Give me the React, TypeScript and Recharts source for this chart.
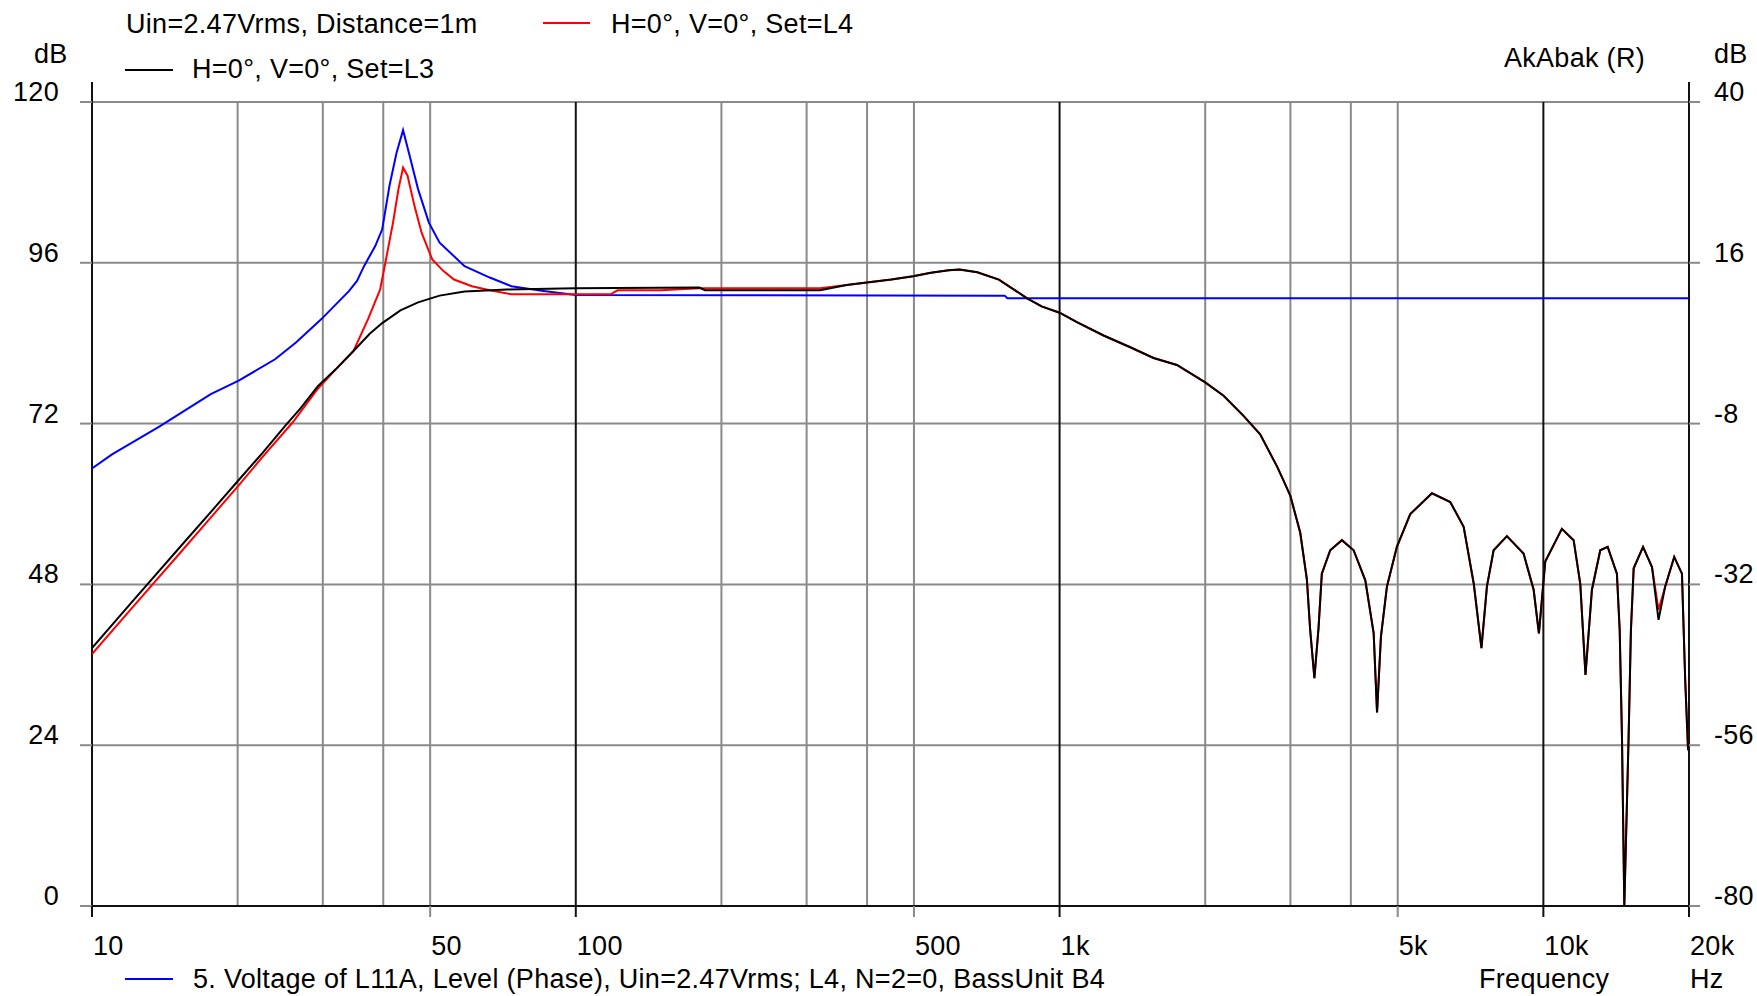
import { LineChart, Line, XAxis, YAxis, CartesianGrid, ReferenceLine } from "recharts";

// frequency response readings (Hz / dB)
const blueHz = [10, 11, 12, 13.8, 15.6, 17.6, 20.1, 23.9, 26.4, 29.8, 34, 35.3, 36.5, 38.5, 39.8, 41.2, 42.6, 43.95, 45.2, 47.2, 49.7, 52.3, 58.9, 66.4, 73.6, 85.8, 100, 770, 780, 20000];
const blueDb = [65.3, 67.4, 69.0, 71.6, 74.0, 76.4, 78.4, 81.6, 84.1, 87.6, 91.8, 93.3, 95.5, 98.5, 101.0, 107.5, 112.4, 115.8, 112.4, 107.0, 102.0, 99.0, 95.5, 93.8, 92.5, 91.8, 91.2, 91.1, 90.7, 90.7];

const redHz = [10, 12, 15, 18, 20, 22.5, 26, 29.3, 31.9, 34.7, 37.2, 39.4, 40.4, 41.9, 43, 43.95, 44.9, 46.4, 48, 50.5, 53.2, 56, 61, 66.4, 73.6, 118, 122, 150, 180, 320, 363, 392, 449, 498, 542, 590, 621, 676, 749, 805, 857, 918, 1000, 1086, 1233, 1400, 1564, 1748, 2000, 2183, 2400, 2598, 2813, 2904, 3000, 3144, 3245, 3296, 3363, 3430, 3484, 3626, 3833, 4053, 4285, 4459, 4531, 4616, 4750, 4980, 5307, 5885, 6420, 6843, 7180, 7447, 7645, 7892, 8407, 9100, 9548, 9790, 10090, 10920, 11550, 11920, 12220, 12600, 13110, 13580, 14190, 14380, 14540, 14700, 15000, 15170, 15370, 16070, 16770, 17300, 17860, 18640, 19340, 19640, 19900, 20000];
const redDb = [37.6, 44.2, 52.2, 58.8, 62.6, 67.0, 72.2, 77.2, 80.1, 82.8, 87.6, 92.0, 96.0, 102.0, 107.0, 110.2, 109.0, 104.5, 100.5, 96.5, 94.8, 93.5, 92.5, 91.9, 91.3, 91.3, 91.9, 91.9, 92.2, 92.2, 92.7, 93.0, 93.5, 94.0, 94.5, 94.9, 95.0, 94.6, 93.5, 92.0, 90.7, 89.5, 88.55, 87.15, 85.15, 83.4, 81.8, 80.75, 78.15, 76.15, 73.15, 70.4, 65.65, 63.5, 61.2, 55.7, 48.7, 41.2, 34.0, 41.5, 49.6, 53.1, 54.6, 53.1, 48.6, 40.7, 28.9, 40.2, 47.7, 53.6, 58.5, 61.6, 60.3, 56.6, 48.1, 38.5, 47.7, 53.1, 55.2, 52.6, 47.2, 40.7, 51.4, 56.3, 54.6, 48.1, 34.5, 47.2, 53.1, 53.6, 49.6, 41.2, 24.9, 0, 24.9, 41.2, 50.4, 53.6, 50.6, 44.2, 47.7, 52.1, 49.6, 33.8, 23.7, 24];

const blackHz = [10, 12, 15, 18, 20, 22.5, 25.1, 27, 29.3, 31.9, 35.3, 37.5, 39.8, 43.4, 47.2, 52.3, 58.9, 72, 100, 180, 185, 320, 363, 392, 449, 498, 542, 590, 621, 676, 749, 805, 857, 918, 1000, 1086, 1233, 1400, 1564, 1748, 2000, 2183, 2400, 2598, 2813, 2904, 3000, 3144, 3245, 3296, 3363, 3430, 3484, 3626, 3833, 4053, 4285, 4459, 4531, 4616, 4750, 4980, 5307, 5885, 6420, 6843, 7180, 7447, 7645, 7892, 8407, 9100, 9548, 9790, 10090, 10920, 11550, 11920, 12220, 12600, 13110, 13580, 14190, 14380, 14540, 14700, 15000, 15170, 15370, 16070, 16770, 17300, 17860, 18640, 19340, 19640, 19900, 20000];
const blackDb = [38.5, 45.1, 53.1, 59.6, 63.4, 67.6, 71.7, 74.3, 77.6, 80.1, 83.4, 85.4, 87.0, 88.9, 90.1, 91.1, 91.7, 92.0, 92.2, 92.3, 91.9, 91.9, 92.7, 93.0, 93.5, 94.0, 94.5, 94.9, 95.0, 94.6, 93.5, 92.0, 90.7, 89.5, 88.55, 87.15, 85.15, 83.4, 81.8, 80.75, 78.15, 76.15, 73.15, 70.4, 65.65, 63.5, 61.2, 55.7, 48.7, 41.2, 34.0, 41.5, 49.6, 53.1, 54.6, 53.1, 48.6, 40.7, 28.9, 40.2, 47.7, 53.6, 58.5, 61.6, 60.3, 56.6, 48.1, 38.5, 47.7, 53.1, 55.2, 52.6, 47.2, 40.7, 51.4, 56.3, 54.6, 48.1, 34.5, 47.2, 53.1, 53.6, 49.6, 41.2, 24.9, 0, 24.9, 41.2, 50.4, 53.6, 50.6, 42.7, 47.7, 52.1, 49.6, 33.8, 23.7, 24];

const freqTicks = [10, 50, 100, 500, 1000, 5000, 10000, 20000];
const freqLabels = ["10", "50", "100", "500", "1k", "5k", "10k", "20k"];
const minorGrid = [20, 30, 40, 50, 200, 300, 400, 500, 2000, 3000, 4000, 5000];
const decadeGrid = [100, 1000, 10000];
const levelTicks = [0, 24, 48, 72, 96, 120];
const rightTicks = [-80, -56, -32, -8, 16, 40];

const FONT = '"Liberation Sans", Arial, sans-serif';
const GRID = "#8a8a8a";
const PLOT_BOTTOM = 906;
const PLOT_RIGHT = 1689;
const txt = { fontFamily: FONT, fontSize: 27, letterSpacing: 0.3, fill: "#000" };

const toPoints = (hz: number[], db: number[]) => hz.map((h, i) => ({ hz: h, db: db[i] }));
const blueData = toPoints(blueHz, blueDb);
const redData = toPoints(redHz, redDb);
const blackData = toPoints(blackHz, blackDb);

function FreqTick(props: any) {
  const { x, payload } = props;
  const v = payload.value;
  const major = v === 10 || v === 100 || v === 1000 || v === 10000 || v === 20000;
  return (
    <g>
      <line x1={x} x2={x} y1={PLOT_BOTTOM} y2={PLOT_BOTTOM + 11} stroke={major ? "#111" : GRID} strokeWidth={2} />
      <text x={x + 1} y={955} {...txt}>{freqLabels[freqTicks.indexOf(v)]}</text>
    </g>
  );
}

// left labels plus the matching right-hand scale (dB relative)
function LevelTick(props: any) {
  const { y, payload } = props;
  const right = rightTicks[levelTicks.indexOf(payload.value)];
  return (
    <g>
      <text x={59} y={y - 1} textAnchor="end" {...txt}>{payload.value}</text>
      <line x1={PLOT_RIGHT} x2={PLOT_RIGHT + 11} y1={y} y2={y} stroke={GRID} strokeWidth={2} />
      <text x={1714} y={y - 1} {...txt}>{right}</text>
    </g>
  );
}

export default function App() {
  return (
    <div style={{ position: "absolute", left: 0, top: 0, width: 1757, height: 996, background: "#fff" }}>
      <LineChart width={1757} height={996} margin={{ top: 102, right: 68, bottom: 0, left: 0 }}>
        <CartesianGrid yAxisId="left" vertical={false} stroke={GRID} strokeWidth={2} />
        {minorGrid.map((f) => (
          <ReferenceLine key={f} x={f} yAxisId="left" stroke={GRID} strokeWidth={2} zIndex={-50} />
        ))}
        {decadeGrid.map((f) => (
          <ReferenceLine key={f} x={f} yAxisId="left" stroke="#111" strokeWidth={2} zIndex={-40} />
        ))}
        <ReferenceLine yAxisId="left" segment={[{ x: 10, y: 0 }, { x: 10, y: 123 }]} ifOverflow="visible" stroke="#111" strokeWidth={2} />
        <ReferenceLine yAxisId="left" segment={[{ x: 20000, y: 0 }, { x: 20000, y: 123 }]} ifOverflow="visible" stroke="#111" strokeWidth={2} />
        <XAxis
          type="number"
          dataKey="hz"
          scale="log"
          domain={[10, 20000]}
          allowDataOverflow
          ticks={freqTicks}
          interval={0}
          tick={(p: any) => <FreqTick {...p} />}
          tickLine={false}
          axisLine={{ stroke: "#111", strokeWidth: 2 }}
          height={90}
        />
        <YAxis
          yAxisId="left"
          domain={[0, 120]}
          allowDataOverflow
          ticks={levelTicks}
          interval={0}
          width={92}
          tickSize={12}
          tickLine={{ stroke: GRID, strokeWidth: 2 }}
          axisLine={false}
          tick={(p: any) => <LevelTick {...p} />}
        />
        <Line yAxisId="left" data={blueData} dataKey="db" type="linear" stroke="#0000ff" strokeWidth={2} dot={false} isAnimationActive={false} />
        <Line yAxisId="left" data={redData} dataKey="db" type="linear" stroke="#ff0000" strokeWidth={2} dot={false} isAnimationActive={false} />
        <Line yAxisId="left" data={blackData} dataKey="db" type="linear" stroke="#000" strokeWidth={2} dot={false} isAnimationActive={false} />
      </LineChart>
      <svg width={1757} height={996} style={{ position: "absolute", left: 0, top: 0, pointerEvents: "none" }}>
        <text x={126} y={33} {...txt}>Uin=2.47Vrms, Distance=1m</text>
        <line x1={543} x2={590} y1={23} y2={23} stroke="#ff0000" strokeWidth={2} />
        <text x={611} y={33} {...txt}>H=0°, V=0°, Set=L4</text>
        <line x1={125} x2={173} y1={70} y2={70} stroke="#000" strokeWidth={2} />
        <text x={192} y={78} {...txt}>H=0°, V=0°, Set=L3</text>
        <text x={34} y={63} {...txt}>dB</text>
        <text x={1714} y={63} {...txt}>dB</text>
        <text x={1645} y={67} textAnchor="end" {...txt}>AkAbak (R)</text>
        <line x1={125} x2={173} y1={979} y2={979} stroke="#0000ff" strokeWidth={2} />
        <text x={193} y={988} {...txt}>5. Voltage of L11A, Level (Phase), Uin=2.47Vrms; L4, N=2=0, BassUnit B4</text>
        <text x={1479} y={988} {...txt}>Frequency</text>
        <text x={1690} y={988} {...txt}>Hz</text>
      </svg>
    </div>
  );
}
